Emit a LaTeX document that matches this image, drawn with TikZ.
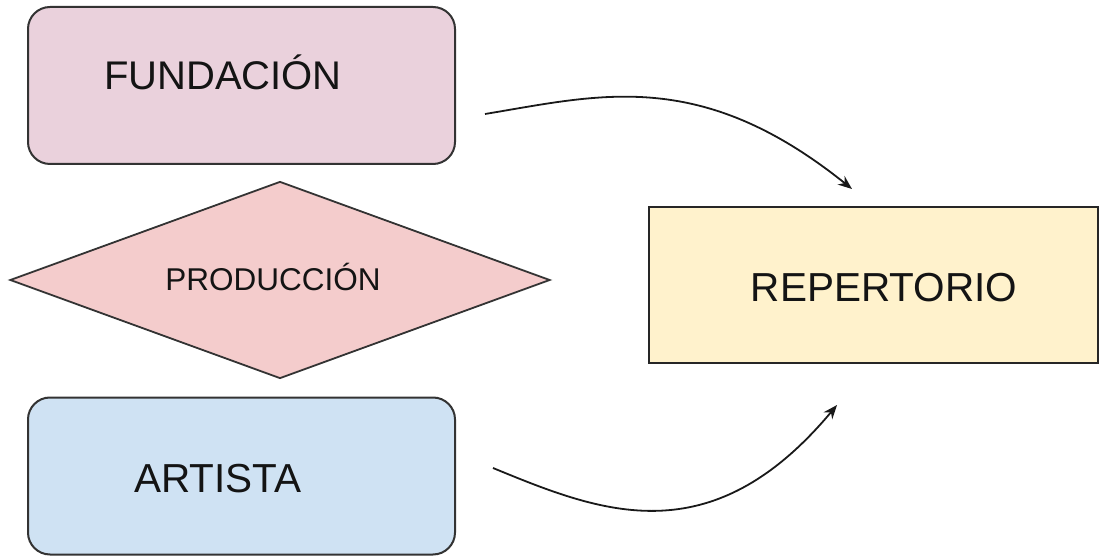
\documentclass[tikz,border=0pt]{standalone}
\usepackage{fontspec}
\setmainfont{Liberation Sans}
\usetikzlibrary{shapes.geometric,arrows.meta}
\definecolor{pinkfill}{HTML}{EAD1DC}
\definecolor{bluefill}{HTML}{CFE2F3}
\definecolor{yellowfill}{HTML}{FFF2CC}
\definecolor{redfill}{HTML}{F4CCCC}
\definecolor{edge}{HTML}{333333}
\begin{document}
\begin{tikzpicture}[x=1pt,y=1pt,
  roundbox/.style={draw=edge,line width=2pt,rounded corners=22pt,minimum width=427pt,minimum height=157pt,inner sep=0pt},
  plainbox/.style={draw=black!85,line width=2pt,minimum width=449pt,minimum height=156pt,inner sep=0pt},
  diam/.style={draw=edge,line width=1.8pt,diamond,minimum width=540pt,minimum height=197pt,inner sep=0pt},
  lbl/.style={anchor=base,inner sep=0pt,text=black!92},
  conn/.style={draw=black!90,line width=1.8pt,-{Stealth[length=14pt,width=11pt]}}]
\useasboundingbox (0,0) rectangle (1099,557);
\node[roundbox,fill=pinkfill] (fund) at (241.5,471.5) {};
\node[roundbox,fill=bluefill] (art) at (241.5,81) {};
\node[plainbox,fill=yellowfill] (rep) at (873.5,272) {};
\node[diam,fill=redfill] (prod) at (280,277) {};
\node[lbl,font=\fontsize{40}{44}\selectfont] (tfund) at (223,467) {FUNDACIÓN};
\node[lbl,font=\fontsize{31.5}{34}\selectfont] (tprod) at (273,266) {PRODUCCIÓN};
\node[lbl,font=\fontsize{40.5}{44}\selectfont] (tart) at (218,65) {ARTISTA};
\node[lbl,font=\fontsize{40.5}{44}\selectfont] (trep) at (884,255) {REPERTORIO};
\coordinate (a1s) at (485,443);
\coordinate (a1e) at (852,368);
\coordinate (a2s) at (493,89);
\coordinate (a2e) at (837,152);
\draw[conn] (a1s) .. controls (600,462) and (700,490) .. (a1e);
\draw[conn] (a2s) .. controls (600,45) and (710,0) .. (a2e);
\end{tikzpicture}
\end{document}
